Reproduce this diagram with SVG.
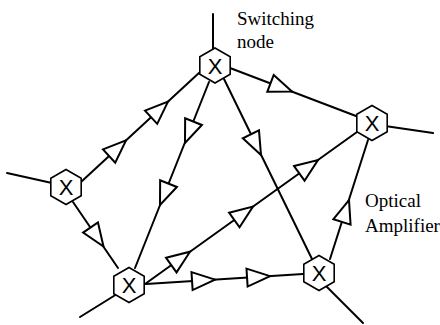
<svg xmlns="http://www.w3.org/2000/svg" xmlns:xlink="http://www.w3.org/1999/xlink" width="440" height="325" viewBox="0 0 440 325">
<style>
.ln{stroke:#000;stroke-width:2;fill:none;stroke-linecap:round}
.tri{fill:#fff;stroke:#000;stroke-width:2;stroke-linejoin:miter}
.hex{fill:#fff;stroke:#000;stroke-width:1.6}
.x{font-family:"Liberation Sans",Arial,sans-serif;font-size:22px;text-anchor:middle;fill:#000}
.lbl{font-family:"Liberation Serif","Times New Roman",serif;font-size:19px;fill:#000}
</style>
<defs>
<polygon id="tri" points="-23,-9 0,0 -23,9"/>
<polygon id="hexagon" points="0,-17.5 15.2,-8.75 15.2,8.75 0,17.5 -15.2,8.75 -15.2,-8.75"/>
</defs>
<rect width="440" height="325" fill="#fff"/>
<g id="connectors">
<line class="ln" x1="213" y1="14" x2="213" y2="50"/>
<line class="ln" x1="7" y1="173" x2="52" y2="183"/>
<line class="ln" x1="80" y1="317" x2="117" y2="294"/>
<line class="ln" x1="325" y1="285" x2="363" y2="323"/>
<line class="ln" x1="385" y1="126" x2="433" y2="133"/>
<line class="ln" x1="81" y1="182" x2="200" y2="72"/>
<line class="ln" x1="209" y1="82" x2="135" y2="268"/>
<line class="ln" x1="224" y1="79" x2="312" y2="259"/>
<line class="ln" x1="230" y1="68" x2="356" y2="116"/>
<line class="ln" x1="73" y1="202" x2="118" y2="268"/>
<line class="ln" x1="145" y1="284" x2="357" y2="132"/>
<line class="ln" x1="146" y1="284" x2="303" y2="274"/>
<line class="ln" x1="330" y1="259" x2="368" y2="140"/>
<use href="#tri" class="tri" transform="translate(126,140.4) rotate(-42.75)"/>
<use href="#tri" class="tri" transform="translate(168,101.6) rotate(-42.75)"/>
<use href="#tri" class="tri" transform="translate(185,143) rotate(111.7)"/>
<use href="#tri" class="tri" transform="translate(160,205) rotate(111.7)"/>
<use href="#tri" class="tri" transform="translate(261,155) rotate(63.95)"/>
<use href="#tri" class="tri" transform="translate(292,91.6) rotate(20.85)"/>
<use href="#tri" class="tri" transform="translate(103.5,246.5) rotate(55.7)"/>
<use href="#tri" class="tri" transform="translate(190,251.7) rotate(-35.6)"/>
<use href="#tri" class="tri" transform="translate(253,206.6) rotate(-35.6)"/>
<use href="#tri" class="tri" transform="translate(318,160) rotate(-35.6)"/>
<use href="#tri" class="tri" transform="translate(215,279.6) rotate(-3.64)"/>
<use href="#tri" class="tri" transform="translate(270,276.1) rotate(-3.64)"/>
<use href="#tri" class="tri" transform="translate(349,200) rotate(-72.3)"/>
</g>
<g id="nodeA" transform="translate(215,65.5)">
<use href="#hexagon" class="hex"/><text class="x" y="8">X</text>
</g>
<g id="nodeB" transform="translate(66,187)">
<use href="#hexagon" class="hex"/><text class="x" y="8">X</text>
</g>
<g id="nodeC" transform="translate(129,285)">
<use href="#hexagon" class="hex"/><text class="x" y="8">X</text>
</g>
<g id="nodeD" transform="translate(319,273)">
<use href="#hexagon" class="hex"/><text class="x" y="8">X</text>
</g>
<g id="nodeE" transform="translate(372,123)">
<use href="#hexagon" class="hex"/><text class="x" y="8">X</text>
</g>
<g id="labels">
<text class="lbl" x="237" y="25">Switching</text>
<text class="lbl" x="237" y="48">node</text>
<text class="lbl" x="365" y="207">Optical</text>
<text class="lbl" x="365" y="232">Amplifier</text>
</g>
</svg>
